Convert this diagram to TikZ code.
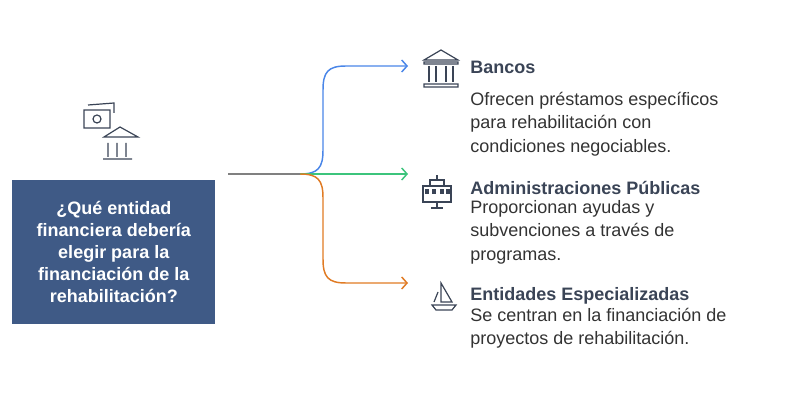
\documentclass[tikz,border=0pt]{standalone}
\usepackage{fontspec}
\setmainfont{Liberation Sans}
\usetikzlibrary{arrows.meta}
\definecolor{boxblue}{HTML}{3F5A86}
\definecolor{ttl}{HTML}{3A4456}
\definecolor{txt}{HTML}{333333}
\definecolor{cblue}{HTML}{4A86E8}
\definecolor{cgreen}{HTML}{3CC47C}
\definecolor{corange}{HTML}{E07B24}
\tikzset{
 ttlnode/.style={anchor=west,text=ttl,font=\bfseries\fontsize{13.5}{15}\selectfont,inner sep=0},
 descnode/.style={anchor=north west,text=txt,font=\fontsize{13.5}{17.6}\selectfont,align=left,inner sep=0},
 branch/.style={line width=1.1pt,-{Straight Barb[length=4pt,width=9pt]}},
 icon/.style={line width=0.9pt,draw=ttl}
}
\begin{document}
\begin{tikzpicture}[x=0.75pt,y=-0.75pt]
\useasboundingbox (0,0) rectangle (792,402);
\node[fill=boxblue,minimum width=152.25pt,minimum height=108pt,anchor=north west,inner sep=0] (q) at (12,180) {};
\node[text=white,font=\bfseries\fontsize{13.5}{16.5}\selectfont,align=center] at (q.center) {¿Qué entidad\\financiera debería\\elegir para la\\financiación de la\\rehabilitación?};
\coordinate (s) at (228,174);
\coordinate (m) at (300,174);
\coordinate (b) at (408,66);
\coordinate (g) at (408,174);
\coordinate (o) at (408,283);
\draw[gray,line width=1.1pt] (s) -- (m);
\draw[branch,cblue] (m) .. controls (318,174) and (323,168) .. (323,150) -- (323,90) .. controls (323,72) and (328,66) .. (346,66) -- (b);
\draw[branch,cgreen] (m) -- (g);
\draw[branch,corange] (m) .. controls (318,174) and (323,180) .. (323,198) -- (323,259) .. controls (323,277) and (328,283) .. (346,283) -- (o);
% bank icon
\draw[icon] (424,60) -- (441,50) -- (458,60) -- cycle (424,62) rectangle (458,64) (424,84) rectangle (458,87);
\foreach \xx in {429,436,446,453}{\draw[icon] (\xx,66) -- (\xx,82);}
% admin icon
\draw[icon] (423,186) rectangle (451,202) (430,186) -- (430,180) -- (444,180) -- (444,186) (437,180) -- (437,175);
\foreach \xx in {426,433,441,447}{\draw[icon] (\xx,190) rectangle +(2,3);}
\draw[icon] (437,202) -- (437,208) (431,208) -- (443,208);
% boat icon
\draw[icon] (441,283) -- (441,302) -- (452,302) -- cycle (432,305) -- (456,305) -- (452,310) -- (436,310) -- cycle (434,302) -- (438,292);
% top icon
\draw[icon] (84,110) rectangle (110,128) (88,105) -- (114,103) -- (114,113);
\draw[icon] (97,119) circle (4);
\draw[icon] (104,137) -- (120,127) -- (138,137) -- cycle (108,143) -- (108,157) (117,143) -- (117,157) (126,143) -- (126,157) (103,159) -- (132,159);
\node[ttlnode] (t1) at (470,67) {Bancos};
\node[descnode] (d1) at (470,92) {Ofrecen préstamos específicos\\para rehabilitación con\\condiciones negociables.};
\node[ttlnode] (t2) at (470,188) {Administraciones Públicas};
\node[descnode] (d2) at (470,200) {Proporcionan ayudas y\\subvenciones a través de\\programas.};
\node[ttlnode] (t3) at (470,296) {Entidades Especializadas};
\node[descnode] (d3) at (470,308) {Se centran en la financiación de\\proyectos de rehabilitación.};
\end{tikzpicture}
\end{document}
